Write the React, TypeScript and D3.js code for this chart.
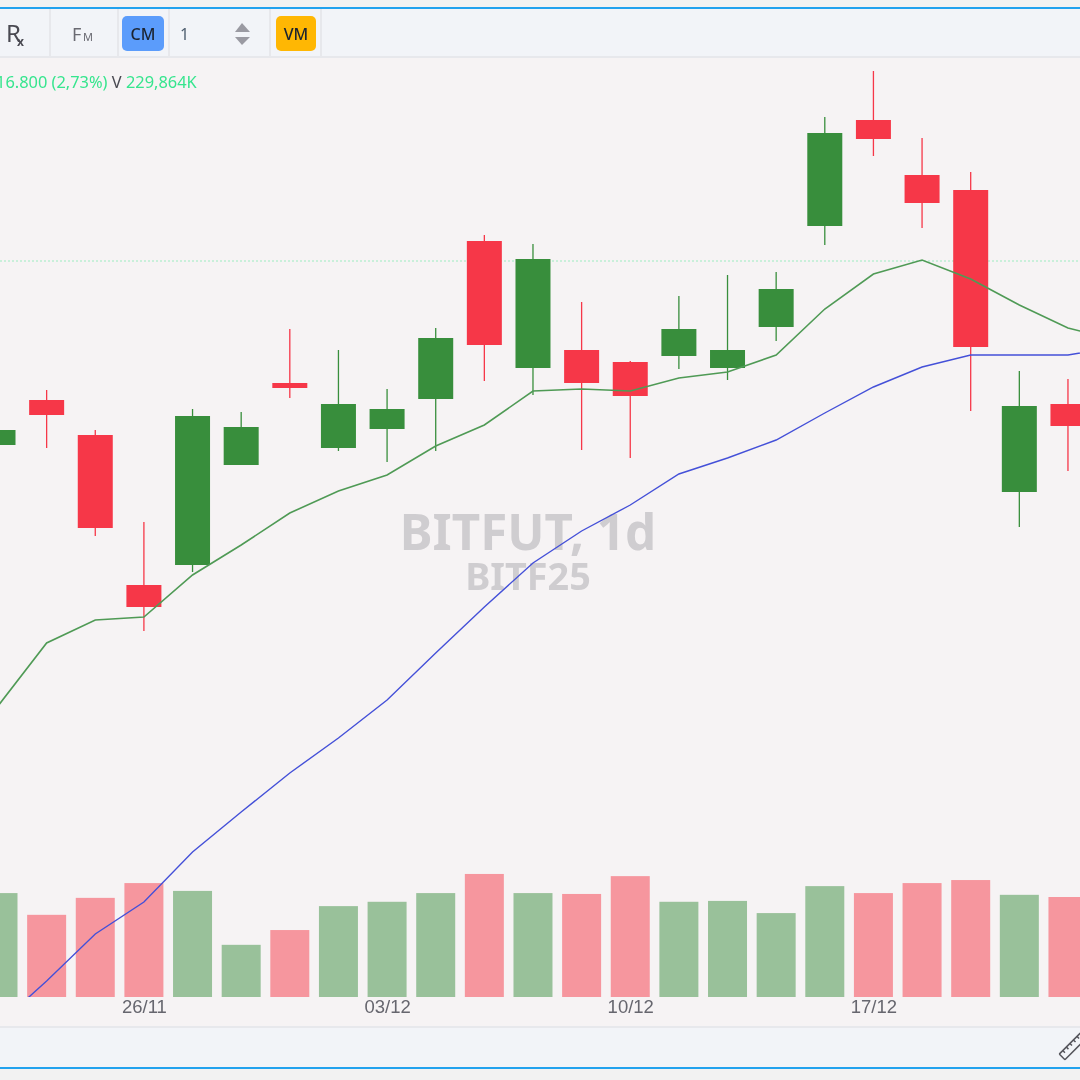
import { useEffect, useRef } from "react";
import * as d3 from "d3";

// Dates of the daily bars (weekdays only); the last one is just past the right edge
const dates = [
  "21/11", "22/11", "25/11", "26/11", "27/11", "28/11", "29/11", "02/12",
  "03/12", "04/12", "05/12", "06/12", "09/12", "10/12", "11/12", "12/12",
  "13/12", "16/12", "17/12", "18/12", "19/12", "20/12", "23/12", "24/12",
];
const tickDates = ["26/11", "03/12", "10/12", "17/12"];

// Prices in chart units
const opens = [555, 600, 565, 415, 435, 535, 617, 552, 571, 601, 759, 632, 650, 638, 644, 632, 673, 774, 880, 825, 810, 508, 596];
const closes = [570, 585, 472, 393, 584, 573, 612, 596, 591, 662, 655, 741, 617, 604, 671, 650, 711, 867, 861, 797, 653, 594, 574];
const highs = [570, 610, 570, 478, 591, 588, 671, 650, 611, 672, 765, 756, 698, 639, 704, 725, 728, 883, 929, 862, 828, 629, 621];
const lows = [550, 552, 464, 369, 428, 535, 602, 549, 538, 549, 619, 605, 550, 542, 631, 620, 659, 755, 844, 772, 589, 473, 529];

// Moving averages
const maFast = [294, 357, 380, 383, 425, 455, 487, 509, 525, 554, 575, 609, 611, 609, 622, 628, 645, 691, 726, 740, 721, 695, 672, 660];
const maSlow = [-25, 19, 66, 98, 148, 188, 227, 262, 300, 347, 393, 437, 469, 495, 526, 542, 560, 587, 613, 633, 645, 645, 645, 653];
const lastPrice = 739;

// Volume in thousands
const volumes = [239, 189, 228, 262, 244, 120, 154, 209, 219, 239, 283, 239, 237, 278, 219, 221, 193, 255, 239, 262, 269, 235, 230];

const gridLine = "#e7e8ec";
const upColor = "#388e3c";
const downColor = "#f63748";

const x = d3.scalePoint<string>().domain(dates).range([-2, 1116.6]);
const y = d3.scaleLinear().domain([0, 1000]).range([1000, 0]);
const yVol = d3.scaleLinear().domain([0, 230]).range([997, 897]);

const lineOf = (values: number[]) =>
  d3.line<number>().x((_, i) => x(dates[i]) as number).y((d) => y(d))(values) as string;

const toolbarSeparators = [49, 117, 168, 269, 320];

export default function App() {
  const axisRef = useRef<SVGGElement>(null);

  useEffect(() => {
    if (!axisRef.current) return;
    const axis = d3.axisBottom(x).tickValues(tickDates).tickSize(0).tickPadding(0);
    const g = d3.select(axisRef.current).call(axis);
    g.select(".domain").remove();
    g.selectAll("text")
      .attr("dy", "0")
      .attr("y", 15)
      .attr("dx", 0)
      .style("font-family", "'Liberation Sans', Arial, sans-serif")
      .style("font-size", "18.5px")
      .style("fill", "#66666e");
  }, []);

  const sans = "'Noto Sans', 'Open Sans', sans-serif";

  return (
    <svg
      width={1080}
      height={1080}
      style={{ position: "absolute", left: 0, top: 0, display: "block", background: "#f2f2f2", filter: "blur(0.4px)" }}
    >
      <defs>
        <clipPath id="plot">
          <rect x={0} y={57} width={1080} height={940} />
        </clipPath>
      </defs>

      {/* Panels */}
      <rect x={0} y={57} width={1080} height={970} fill="#f6f3f4" />
      <rect x={0} y={9} width={1080} height={47} fill="#f2f4f8" />
      <rect x={0} y={56} width={1080} height={2} fill={gridLine} />
      <rect x={0} y={1027} width={1080} height={40} fill="#f2f4f8" />
      <rect x={0} y={1026} width={1080} height={2} fill={gridLine} />
      <rect x={0} y={7} width={1080} height={2} fill="#22a2ee" />
      <rect x={0} y={1067} width={1080} height={2} fill="#22a2ee" />

      {/* Toolbar */}
      {toolbarSeparators.map((s) => (
        <rect key={s} x={s} y={9} width={2} height={47} fill={gridLine} />
      ))}
      <text x={6} y={42} fontFamily={sans} fontSize={24} fill="#4a4a52">R</text>
      <text x={17} y={46} fontFamily={sans} fontSize={12} fontWeight={700} fill="#4a4a52">x</text>
      <text x={72} y={41} fontFamily={sans} fontSize={18} fill="#6a6a72">F</text>
      <text x={83} y={41} fontFamily={sans} fontSize={11} fill="#6a6a72">M</text>
      <rect x={122} y={16} width={42} height={35} rx={5} fill="#5b9cfb" />
      <text x={143} y={40} textAnchor="middle" fontFamily={sans} fontSize={16} fontWeight={500} fill="#1c2430">CM</text>
      <text x={180} y={40} fontFamily={sans} fontSize={16} fill="#4f5f70">1</text>
      <path d="M242,23 L250,32 L235,32 Z" fill="#9a9aa2" />
      <path d="M235,37 L250,37 L242,45 Z" fill="#9a9aa2" />
      <rect x={276} y={16} width={40} height={35} rx={5} fill="#ffb703" />
      <text x={296} y={40} textAnchor="middle" fontFamily={sans} fontSize={16} fontWeight={500} fill="#1c2430">VM</text>

      {/* Last price line */}
      <line x1={0} x2={1080} y1={y(lastPrice)} y2={y(lastPrice)} stroke="#9cecc0" strokeWidth={1} strokeDasharray="2,2" />

      {/* Watermark */}
      <text x={528} y={550} textAnchor="middle" fontFamily={sans} fontSize={49.3} fontWeight={700} fill="#cfcdd0">BITFUT, 1d</text>
      <text x={528} y={590} textAnchor="middle" fontFamily={sans} fontSize={37.8} fontWeight={700} fill="#cfcdd0">BITF25</text>

      {/* Legend */}
      <text x={-4} y={88} fontFamily={sans} fontSize={16.4}>
        <tspan fill="#36e58e">16.800 (2,73%)</tspan>
        <tspan fill="#4a4a52"> V </tspan>
        <tspan fill="#36e58e">229,864K</tspan>
      </text>

      {/* Volume bars */}
      {volumes.map((v, i) => (
        <rect
          key={dates[i]}
          x={(x(dates[i]) as number) - 19.5}
          y={yVol(v)}
          width={39}
          height={yVol(0) - yVol(v)}
          fill={closes[i] >= opens[i] ? "#99c19a" : "#f6969e"}
        />
      ))}

      {/* Candles */}
      {opens.map((o, i) => {
        const color = closes[i] >= o ? upColor : downColor;
        const cx = x(dates[i]) as number;
        const top = y(Math.max(o, closes[i]));
        const bottom = y(Math.min(o, closes[i]));
        return (
          <g key={dates[i]}>
            <line x1={cx} x2={cx} y1={y(highs[i])} y2={y(lows[i])} stroke={color} strokeWidth={1.3} />
            <rect x={cx - 17.5} y={top} width={35} height={bottom - top} fill={color} />
          </g>
        );
      })}

      {/* Moving averages */}
      <g clipPath="url(#plot)" fill="none">
        <path d={lineOf(maFast)} stroke="#4f9a55" strokeWidth={1.6} />
        <path d={lineOf(maSlow)} stroke="#4450d8" strokeWidth={1.4} />
      </g>

      {/* Date axis */}
      <g ref={axisRef} transform="translate(0,998)" />

      {/* Ruler icon */}
      <g transform="translate(1072,1047) rotate(-45)" fill="none" stroke="#55555c" strokeWidth={1.5}>
        <rect x={-14} y={-4} width={30} height={8} rx={1} fill="#f2f4f8" />
        <path d="M-9,-4 V-1 M-4,-4 V-1 M1,-4 V-1 M6,-4 V-1 M11,-4 V-1" />
      </g>
    </svg>
  );
}
